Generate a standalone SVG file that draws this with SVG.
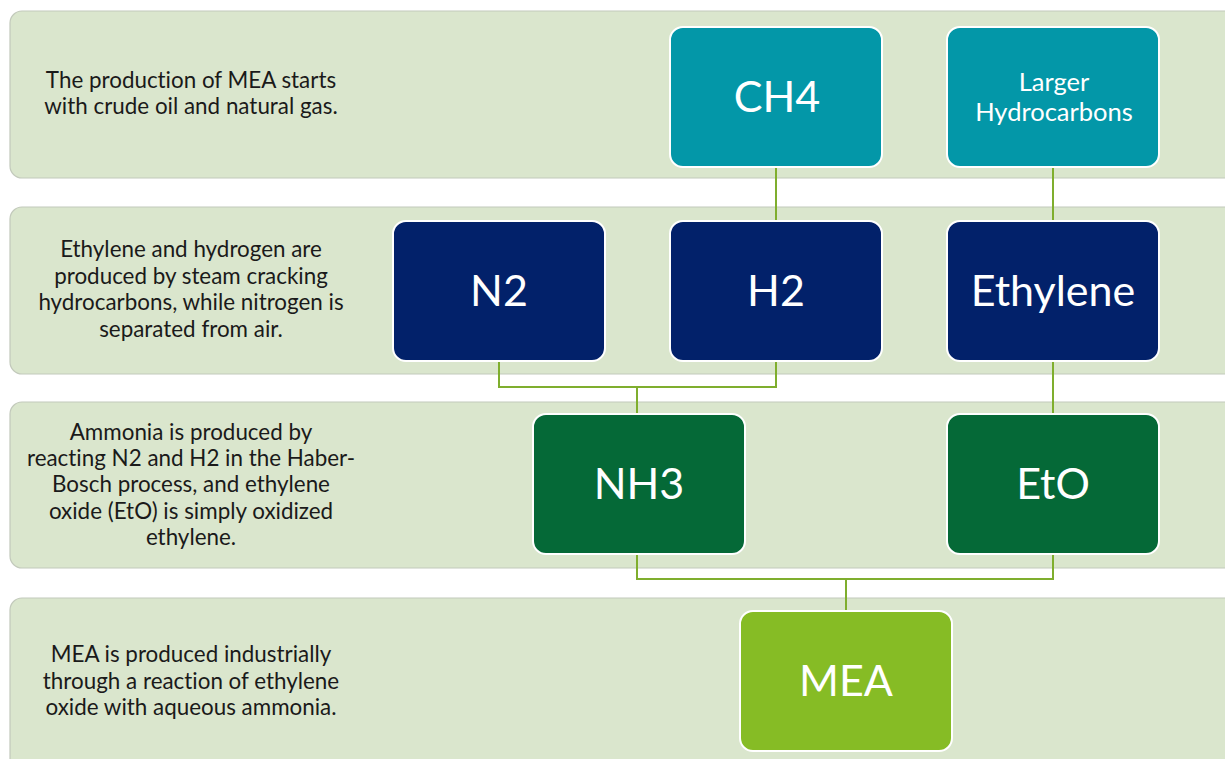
<svg xmlns="http://www.w3.org/2000/svg" width="1225" height="759" viewBox="0 0 1225 759">
<style>
.band{fill:#dae6cd;stroke:#c2c9bb;stroke-width:1.2}
.node{stroke:#ffffff;stroke-width:2}
.teal{fill:#0397a8}
.navy{fill:#02216a}
.dgreen{fill:#056937}
.lgreen{fill:#86bc25}
.desc{font-family:Lato,"Open Sans",sans-serif;font-size:22.4px;fill:#1a1a1a;text-anchor:middle;font-variant-ligatures:none}
.lbl{font-family:Lato,"Open Sans",sans-serif;fill:#ffffff;text-anchor:middle;font-variant-ligatures:none}
.big{font-size:43px}
.small{font-size:25.5px}
.conn{fill:none;stroke:#7fae2e;stroke-width:2}
</style>
<rect width="1225" height="759" fill="#ffffff"/>
<g id="bands">
<rect class="band" x="10" y="11" width="1240" height="167" rx="12"/>
<rect class="band" x="10" y="207" width="1240" height="167" rx="12"/>
<rect class="band" x="10" y="402" width="1240" height="166" rx="12"/>
<rect class="band" x="10" y="598" width="1240" height="180" rx="12"/>
</g>
<g id="descriptions">
<text class="desc" x="191" y="88">The production of MEA starts</text>
<text class="desc" x="191" y="114">with crude oil and natural gas.</text>
<text class="desc" x="191" y="257">Ethylene and hydrogen are</text>
<text class="desc" x="191" y="283.5">produced by steam cracking</text>
<text class="desc" x="191" y="310">hydrocarbons, while nitrogen is</text>
<text class="desc" x="191" y="336.5">separated from air.</text>
<text class="desc" x="191" y="439.5">Ammonia is produced by</text>
<text class="desc" x="191" y="466">reacting N2 and H2 in the Haber-</text>
<text class="desc" x="191" y="492">Bosch process, and ethylene</text>
<text class="desc" x="191" y="518.5">oxide (EtO) is simply oxidized</text>
<text class="desc" x="191" y="545">ethylene.</text>
<text class="desc" x="191" y="662">MEA is produced industrially</text>
<text class="desc" x="191" y="688.5">through a reaction of ethylene</text>
<text class="desc" x="191" y="715">oxide with aqueous ammonia.</text>
</g>
<g id="connectors">
<path class="conn" d="M776 167V221"/>
<path class="conn" d="M1053 167V221"/>
<path class="conn" d="M499 361V387H776V361M637 387V414"/>
<path class="conn" d="M1053 361V414"/>
<path class="conn" d="M637 554V579H1053V554M846 579V611"/>
</g>
<g id="node-ch4">
<rect class="node teal" x="670" y="27" width="212" height="140" rx="13"/>
<text class="lbl big" x="777" y="112">CH4</text>
</g>
<g id="node-larger-hydrocarbons">
<rect class="node teal" x="947" y="27" width="212" height="140" rx="13"/>
<text class="lbl small" x="1054" y="91">Larger</text>
<text class="lbl small" x="1054" y="121">Hydrocarbons</text>
</g>
<g id="node-n2">
<rect class="node navy" x="393" y="221" width="212" height="140" rx="13"/>
<text class="lbl big" x="499" y="306">N2</text>
</g>
<g id="node-h2">
<rect class="node navy" x="670" y="221" width="212" height="140" rx="13"/>
<text class="lbl big" x="776" y="306">H2</text>
</g>
<g id="node-ethylene">
<rect class="node navy" x="947" y="221" width="212" height="140" rx="13"/>
<text class="lbl big" x="1053" y="306">Ethylene</text>
</g>
<g id="node-nh3">
<rect class="node dgreen" x="533" y="414" width="212" height="140" rx="13"/>
<text class="lbl big" x="639" y="499">NH3</text>
</g>
<g id="node-eto">
<rect class="node dgreen" x="947" y="414" width="212" height="140" rx="13"/>
<text class="lbl big" x="1053" y="499">EtO</text>
</g>
<g id="node-mea">
<rect class="node lgreen" x="740" y="611" width="212" height="140" rx="13"/>
<text class="lbl big" x="846" y="696">MEA</text>
</g>
</svg>
